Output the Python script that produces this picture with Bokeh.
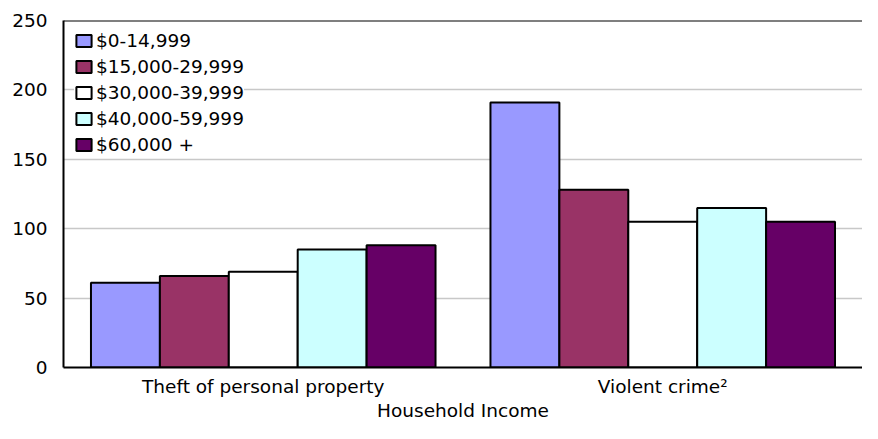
from bokeh.plotting import figure
from bokeh.models import (ColumnDataSource, FactorRange, Range1d, Span, Legend,
                          LegendItem, FixedTicker)
from bokeh.transform import dodge
from bokeh.embed import file_html
from bokeh.resources import INLINE

# ---- data ----
crimes = ["Theft of personal property", "Violent crime²"]
income_groups = ["$0-14,999", "$15,000-29,999", "$30,000-39,999",
                 "$40,000-59,999", "$60,000 +"]
inc_0_14999 = [61, 191]
inc_15000_29999 = [66, 128]
inc_30000_39999 = [69, 105]
inc_40000_59999 = [85, 115]
inc_60000_plus = [88, 105]
colors = ["#9999FF", "#993366", "#FFFFFF", "#CCFFFF", "#660066"]
y_ticks = [0, 50, 100, 150, 200, 250]
x_title = "Household Income"

series = [inc_0_14999, inc_15000_29999, inc_30000_39999, inc_40000_59999, inc_60000_plus]
keys = ["s0", "s1", "s2", "s3", "s4"]

data = {"crime": crimes}
for k, s in zip(keys, series):
    data[k] = s
src = ColumnDataSource(data)

FONT = "DejaVu Sans"
FS = "18.5px"

p = figure(width=862, height=423, output_backend="svg", toolbar_location=None,
           x_range=FactorRange(factors=crimes, range_padding=0),
           y_range=Range1d(0, 250),
           min_border_left=63, min_border_right=0, min_border_top=20,
           min_border_bottom=40)
p.outline_line_color = None
p.background_fill_color = "white"
p.border_fill_color = "white"

bw = 0.1725
offsets = [-2 * bw, -bw, 0, bw, 2 * bw]
renderers = []
for k, off, c in zip(keys, offsets, colors):
    r = p.vbar(x=dodge("crime", off, range=p.x_range), top=k, width=bw,
               source=src, fill_color=c, line_color="black", line_width=2)
    renderers.append(r)

# top frame border
p.add_layout(Span(location=250, dimension="width", line_color="black", line_width=2))

# y axis
p.yaxis.ticker = FixedTicker(ticks=y_ticks)
p.yaxis.axis_line_color = "black"
p.yaxis.axis_line_width = 2
p.yaxis.major_tick_out = 0
p.yaxis.major_tick_in = 0
p.yaxis.minor_tick_out = 0
p.yaxis.minor_tick_in = 0
p.yaxis.major_label_standoff = 16
p.yaxis.major_label_text_font = FONT
p.yaxis.major_label_text_font_size = FS
p.yaxis.major_label_text_color = "black"

# x axis
p.xaxis.axis_line_color = "black"
p.xaxis.axis_line_width = 2
p.xaxis.major_tick_out = 0
p.xaxis.major_tick_in = 0
p.xaxis.major_label_standoff = 8
p.xaxis.major_label_text_font = FONT
p.xaxis.major_label_text_font_size = FS
p.xaxis.major_label_text_color = "black"
p.xaxis.axis_label = x_title
p.xaxis.axis_label_text_font = FONT
p.xaxis.axis_label_text_font_size = FS
p.xaxis.axis_label_text_font_style = "normal"
p.xaxis.axis_label_text_color = "black"
p.xaxis.axis_label_standoff = 0

p.xgrid.grid_line_color = None
p.ygrid.grid_line_color = "#C8C8C8"
p.ygrid.grid_line_width = 1.5

legend = Legend(items=[LegendItem(label=g, renderers=[r]) for g, r in zip(income_groups, renderers)],
                location=(11, 212), margin=0, padding=5, spacing=5,
                glyph_width=19, glyph_height=15, label_standoff=3,
                label_text_font=FONT, label_text_font_size=FS,
                label_text_color="black",
                border_line_color=None, background_fill_color="white",
                background_fill_alpha=1.0)
p.add_layout(legend)

open("out.html", "w").write(file_html(p, INLINE))
